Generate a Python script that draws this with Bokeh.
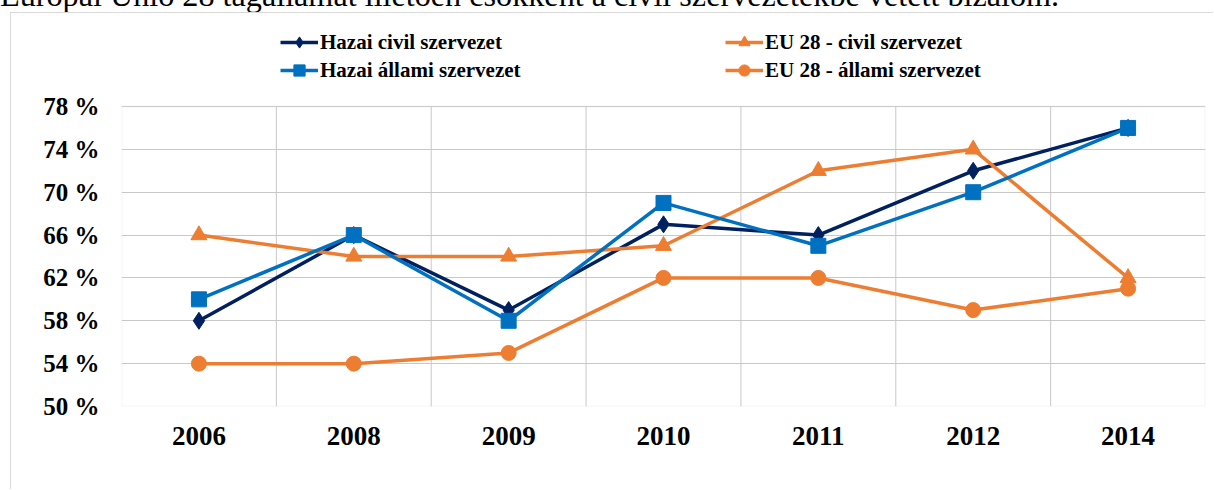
from bokeh.plotting import figure
from bokeh.models import (FactorRange, Range1d, FixedTicker, Legend, LegendItem, Div,
                          BoxAnnotation)
from bokeh.layouts import column
from bokeh.embed import file_html
from bokeh.resources import INLINE

years = ["2006", "2008", "2009", "2010", "2011", "2012", "2014"]
hazai_civil = [58, 66, 59, 67, 66, 72, 76]
hazai_allami = [60, 66, 58, 69, 65, 70, 76]
eu_civil = [66, 64, 64, 65, 72, 74, 62]
eu_allami = [54, 54, 55, 62, 62, 59, 61]
y_ticks = [50, 54, 58, 62, 66, 70, 74, 78]
y_tick_labels = ["50 %", "54 %", "58 %", "62 %", "66 %", "70 %", "74 %", "78 %"]
names = ["Hazai civil szervezet", "EU 28 - civil szervezet",
         "Hazai állami szervezet", "EU 28 - állami szervezet"]
caption = "Európai Unió 28 tagállamát illetően csökkent a civil szervezetekbe vetett bizalom."

NAVY = "#002060"
BLUE = "#0070C0"
ORANGE = "#ED7D31"
GRID = "#c8c8c8"
SERIF = "Liberation Serif"

# the frame also holds the legend rows above the plot area (extra room above 78 %)
y_top = y_ticks[-1] + 80 * (y_ticks[-1] - y_ticks[0]) / 300

p = figure(width=1203, height=477, output_backend="svg", toolbar_location=None,
           x_range=FactorRange(factors=years), y_range=Range1d(y_ticks[0], y_top),
           min_border_left=110, min_border_right=9, min_border_top=13,
           min_border_bottom=84)
p.margin = (0, 0, 0, 10)
p.styles = {"border-left": "1px solid #d9d9d9", "border-top": "1px solid #d9d9d9"}
p.background_fill_color = "white"
p.border_fill_color = "white"
p.outline_line_color = None

# grids
p.xgrid.grid_line_color = None
p.ygrid.ticker = FixedTicker(ticks=y_ticks)
p.ygrid.grid_line_color = GRID
p.ygrid.grid_line_width = 1
bounds = list(range(1, len(years)))
p.segment(x0=bounds, y0=[y_ticks[0]] * len(bounds), x1=bounds,
          y1=[y_ticks[-1]] * len(bounds), line_color=GRID, line_width=1)
p.add_layout(BoxAnnotation(bottom=y_ticks[0], top=y_ticks[-1], fill_alpha=0,
                           line_color="#d9d9d9", line_width=2, level="underlay"))

# y axis
p.yaxis.ticker = FixedTicker(ticks=y_ticks)
p.yaxis.major_label_overrides = {t: l for t, l in zip(y_ticks, y_tick_labels)}
p.yaxis.major_label_text_font = SERIF
p.yaxis.major_label_text_font_style = "bold"
p.yaxis.major_label_text_font_size = "25px"
p.yaxis.major_label_text_color = "black"
p.yaxis.major_label_standoff = 16
p.yaxis.axis_line_color = None
p.yaxis.major_tick_line_color = None
p.yaxis.minor_tick_line_color = None

# x axis
p.xaxis.major_label_text_font = SERIF
p.xaxis.major_label_text_font_style = "bold"
p.xaxis.major_label_text_font_size = "27px"
p.xaxis.major_label_text_color = "black"
p.xaxis.major_label_standoff = 14
p.xaxis.axis_line_color = None
p.xaxis.major_tick_line_color = None
p.xaxis.minor_tick_line_color = None

LW = 3.5
r_hc_l = p.line(years, hazai_civil, line_color=NAVY, line_width=LW)
r_hc_m = p.scatter(years, hazai_civil, marker="diamond", size=17, color=NAVY)
r_ec_l = p.line(years, eu_civil, line_color=ORANGE, line_width=LW)
r_ec_m = p.scatter(years, eu_civil, marker="triangle", size=16, color=ORANGE)
r_ha_l = p.line(years, hazai_allami, line_color=BLUE, line_width=LW)
r_ha_m = p.scatter(years, hazai_allami, marker="square", size=15, color=BLUE)
r_ea_l = p.line(years, eu_allami, line_color=ORANGE, line_width=LW)
r_ea_m = p.scatter(years, eu_allami, marker="circle", size=15, color=ORANGE)


def make_legend(items, loc):
    lg = Legend(items=items, location=loc, orientation="vertical")
    lg.border_line_color = None
    lg.background_fill_alpha = 0
    lg.padding = 0
    lg.margin = 0
    lg.spacing = 0
    lg.glyph_width = 38
    lg.glyph_height = 28
    lg.label_height = 28
    lg.label_standoff = 2
    lg.label_text_font = SERIF
    lg.label_text_font_style = "bold"
    lg.label_text_font_size = "21px"
    lg.label_text_color = "black"
    lg.label_text_baseline = "middle"
    return lg


p.add_layout(make_legend([LegendItem(label=names[0], renderers=[r_hc_l, r_hc_m]),
                          LegendItem(label=names[2], renderers=[r_ha_l, r_ha_m])],
                         (159, 322)))
p.add_layout(make_legend([LegendItem(label=names[1], renderers=[r_ec_l, r_ec_m]),
                          LegendItem(label=names[3], renderers=[r_ea_l, r_ea_m])],
                         (604, 322)))

cap = Div(text=('<div style="position:relative; top:-18px; font-family:\'Liberation Serif\';'
                ' font-size:32.2px; line-height:27px; white-space:nowrap; color:black;">'
                + caption + '</div>'),
          width=1214, height=12, margin=0, styles={"overflow": "visible"})

layout = column(cap, p, spacing=0)
open("out.html", "w").write(file_html(layout, INLINE))
